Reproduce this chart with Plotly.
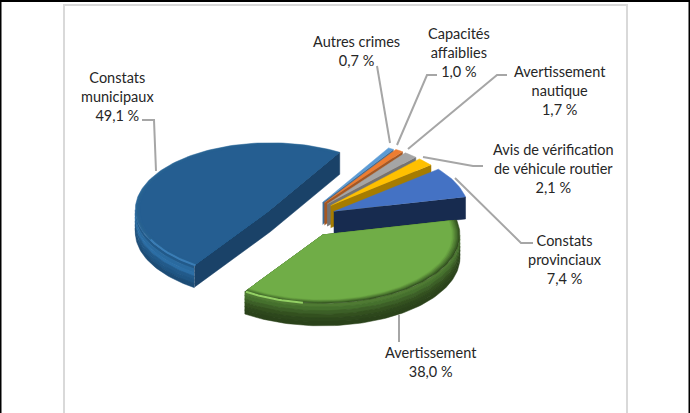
import math
import plotly.graph_objects as go

categories = ["Constats<br>municipaux", "Autres crimes", "Capacités<br>affaiblies",
              "Avertissement<br>nautique", "Avis de vérification<br>de véhicule routier",
              "Constats<br>provinciaux", "Avertissement"]
values = [49.1, 0.7, 1.0, 1.7, 2.1, 7.4, 38.0]
value_labels = ["49,1 %", "0,7 %", "1,0 %", "1,7 %", "2,1 %", "7,4 %", "38,0 %"]

# style / layout
START = -145.8
CX, CY, A, B, DEPTH = 301.0, 219.5, 135.0, 67.0, 22.0
PULL = [0.27, 0.30, 0.30, 0.30, 0.30, 0.27, 0.28]
RADIUS = [1.0, 0.95, 0.96, 0.96, 0.96, 1.0, 1.02]
TOP = ["#255e91", "#5b9bd5", "#ed7d31", "#a5a5a5", "#ffc000", "#4472c4", "#70ad47"]
WALL = ["#1a4268", "#3f6d96", "#a55722", "#737373", "#a67c00", "#172b4f", "#3a5a25"]
BEVEL = [["#2a6699", "#28628f", "#265f92", "#255e91"], None, None, None, None, None,
         ["#33501f", "#3f6428", "#4d7a31", "#5a8a39", "#66a040", "#70ad47"]]
RIM = [["#225a8a", "#2a6a9f", "#2c6ea5", "#225a8a", "#1f5583", "#1c4c76"], None, None, None, None, None,
       ["#4f7a33", "#45702d", "#3c5f27", "#33501f", "#2d471c", "#2a421a"]]
HILITE = ["#3a7db6", None, None, None, None, None, "#93d064"]
LABEL_POS = [(117, 96), (356, 51), (459, 52), (560, 90), (553, 168), (565, 259), (431, 362)]
LEADERS = ["M142 120 L154 120 L156 171", "M377 66 L390 143", "M437 75 L427 75 L397 145",
           "M507 75 L497 75 L408 149", "M483 166 L473 166 L423 157",
           "M533 243 L521 243 L455 178", "M399 342 L399 315"]


def pt(cx, cy, t, r=1.0, dy=0.0):
    a = math.radians(t)
    return cx + r * A * math.sin(a), cy - r * B * math.cos(a) + dy


def arc(cx, cy, t1, t2, r=1.0, dy=0.0):
    n = max(2, int(abs(t2 - t1) / 1.5))
    return [pt(cx, cy, t1 + (t2 - t1) * i / n, r, dy) for i in range(n + 1)]


fig = go.Figure()


def poly(points, color):
    fig.add_trace(go.Scatter(x=[p[0] for p in points], y=[p[1] for p in points], mode="lines",
                             fill="toself", fillcolor=color,
                             line=dict(color=color, width=0.5), hoverinfo="skip", showlegend=False))


angles = []
t = START
for v in values:
    angles.append((t, t + v * 3.6))
    t += v * 3.6

for i in range(len(values)):
    t1, t2 = angles[i]
    mid = (t1 + t2) / 2
    R = RADIUS[i]
    cx, cy = pt(CX, CY, mid, PULL[i])
    # rim, only the part facing the viewer
    lo, hi = max(t1, 90), min(t2, 270)
    if t1 < -90:
        lo, hi = t1, -90
    if lo < hi and RIM[i]:
        n = len(RIM[i])
        for k, c in enumerate(RIM[i]):
            d1, d2 = DEPTH * k / n, DEPTH * (k + 1) / n
            poly(arc(cx, cy, lo, hi, R, d1) + arc(cx, cy, hi, lo, R, d2 + 0.5), c)
    # cut faces
    if i == 0:
        e1, e2 = pt(cx, cy, t1, R), pt(cx, cy, t2, R)
        poly([e1, (cx, cy), e2, (e2[0], e2[1] + DEPTH), (cx, cy + DEPTH), (e1[0], e1[1] + DEPTH)], WALL[i])
    elif i != 6:
        e = pt(cx, cy, t2, R)
        poly([(cx, cy), e, (e[0], e[1] + DEPTH), (cx, cy + DEPTH)], WALL[i])
    # top
    if BEVEL[i]:
        for k, c in enumerate(BEVEL[i]):
            poly([(cx, cy)] + arc(cx, cy, t1, t2, R - 0.012 * k), c)
    else:
        poly([(cx, cy)] + arc(cx, cy, t1, t2, R), TOP[i])
    if HILITE[i]:
        h = arc(cx, cy, t1, t1 + 30, 0.985 * R, 1) if i == 0 else arc(cx, cy, t2 - 26, t2, 0.985 * R, 1)
        fig.add_trace(go.Scatter(x=[p[0] for p in h], y=[p[1] for p in h], mode="lines",
                                 line=dict(color=HILITE[i], width=2), hoverinfo="skip", showlegend=False))

annotations = [dict(x=p[0], y=p[1], xref="x", yref="y", showarrow=False, align="center",
                    text=f"{c}<br>{v}", font=dict(family="Lato", size=14.5, color="#262626"))
               for c, v, p in zip(categories, value_labels, LABEL_POS)]

shapes = [dict(type="path", path=s, line=dict(color="#a6a6a6", width=2), layer="above") for s in LEADERS]
frame = [("M64 413 L64 5 L627 5 L627 413", "#d9d9d9", 2),
         ("M0.5 413 L0.5 1 L689.5 1 L689.5 413", "#000000", 2)]
shapes += [dict(type="path", path=s, line=dict(color=c, width=w), layer="below") for s, c, w in frame]

fig.update_layout(width=690, height=413, margin=dict(l=0, r=0, t=0, b=0), autosize=False,
                  paper_bgcolor="white", plot_bgcolor="white", showlegend=False,
                  xaxis=dict(range=[0, 690], visible=False, fixedrange=True),
                  yaxis=dict(range=[413, 0], visible=False, fixedrange=True),
                  annotations=annotations, shapes=shapes)
fig.write_html("out.html", config=dict(displayModeBar=False),
               post_script="document.body.style.margin='0';document.documentElement.style.overflow='hidden';")
